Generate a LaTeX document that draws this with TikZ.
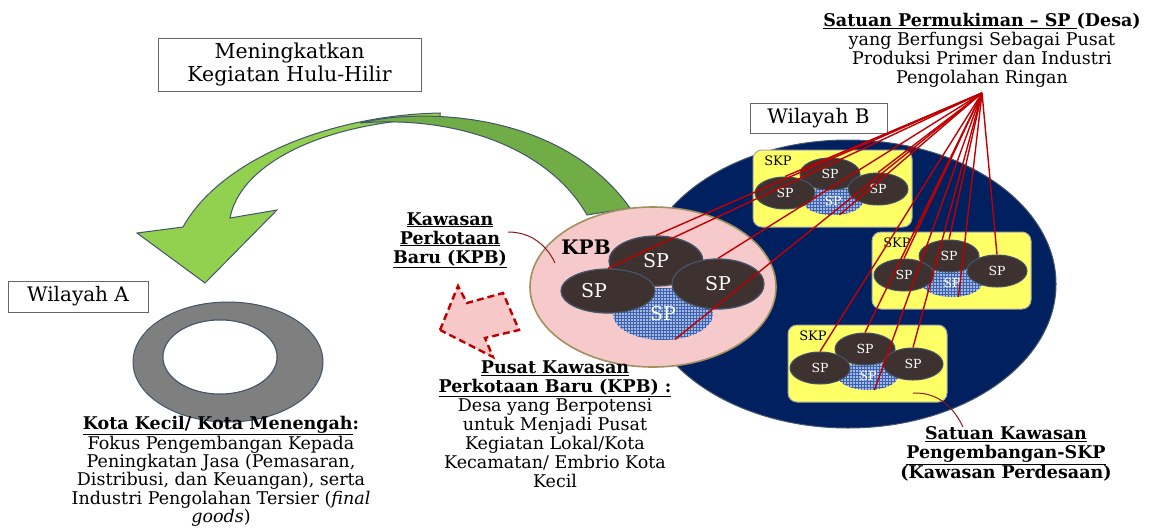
\documentclass[tikz,border=0pt]{standalone}
\usepackage{fontspec}
\setmainfont{DejaVu Serif}
\usetikzlibrary{shapes.geometric,patterns}
\definecolor{navy}{HTML}{002060}
\definecolor{kpbpink}{HTML}{F6CACA}
\definecolor{kpbedge}{RGB}{160,145,95}
\definecolor{spdark}{RGB}{62,50,48}
\definecolor{slate}{HTML}{44546A}
\definecolor{texblue}{HTML}{A3B9E4}
\definecolor{texdark}{HTML}{3D62AE}
\definecolor{skpyellow}{HTML}{FFFF66}
\definecolor{linered}{HTML}{C00000}
\definecolor{curvered}{RGB}{139,26,26}
\definecolor{ringgray}{HTML}{7F7F7F}
\definecolor{greendark}{HTML}{70AD47}
\definecolor{greenlight}{HTML}{92D050}
\definecolor{arrowpink}{RGB}{246,200,200}
\newcommand\bodyfont{\fontsize{17.5}{19}\selectfont}
\tikzset{
  labelbox/.style={draw=gray!80!black, line width=0.8pt, fill=white, inner sep=0pt, align=center},
  txt/.style={align=center, inner sep=0pt, font=\bodyfont},
  spbig/.style={ellipse, draw=slate, line width=1.3pt, fill=spdark, text=white, inner sep=0pt, font=\fontsize{19}{19}\selectfont},
  sptexbig/.style={ellipse, fill=texblue, postaction={pattern=grid, pattern color=texdark}, text=white, inner sep=0pt, font=\fontsize{19}{19}\selectfont},
  sps/.style={ellipse, draw=slate, line width=1pt, fill=spdark, text=white, inner sep=0pt, minimum width=60pt, minimum height=32pt, font=\fontsize{12.5}{12.5}\selectfont},
  sptex/.style={ellipse, fill=texblue, postaction={pattern=grid, pattern color=texdark}, text=white, inner sep=0pt, minimum width=60pt, minimum height=28pt, font=\fontsize{12.5}{12.5}\selectfont},
  skpbox/.style={rounded corners=9pt, fill=skpyellow, draw=gray!70, line width=1pt, minimum width=159pt, minimum height=77pt, inner sep=0pt},
  skplab/.style={inner sep=0pt, font=\fontsize{13}{13}\selectfont},
  redline/.style={draw=linered, line width=1.4pt},
  curveline/.style={draw=curvered, line width=1pt},
}
\newcommand\skpgroup[3]{%
  \node[skpbox] (#1) at ({#2+79.5},{#3+38.5}) {};
  \node[skplab] (#1lab) at ({#2+25},{#3+11}) {SKP};
  \node[sptex] (#1x) at ({#2+80},{#3+51}) {SP};
  \node[sps] (#1t) at ({#2+77},{#3+24}) {SP};
  \node[sps] (#1l) at ({#2+32},{#3+43}) {SP};
  \node[sps] (#1r) at ({#2+125},{#3+39}) {SP};
}
\begin{document}
\begin{tikzpicture}[x=1pt,y=-1pt]
\useasboundingbox (0,0) rectangle (1150,528);
% green curved arrow
\fill[greenlight, draw=slate, line width=1pt]
  (440,113) .. controls (330,115) and (220,160) .. (183,227)
  -- (137,233) -- (205,283) -- (277,210) -- (230,218)
  .. controls (240,165) and (320,122) .. (440,118) -- cycle;
\fill[greendark, draw=slate, line width=1pt]
  (360,123) .. controls (420,108) and (560,110) .. (630,208)
  -- (587,215) .. controls (550,150) and (460,115) .. (360,123) -- cycle;
% text boxes
\node[labelbox, minimum width=263pt, minimum height=53pt, font=\fontsize{20.5}{22.5}\selectfont] (hulu) at (289.5,64.5) {Meningkatkan\\Kegiatan Hulu-Hilir};
\node[labelbox, minimum width=140pt, minimum height=31pt, font=\fontsize{20}{20}\selectfont] (wa) at (78,296.5) {Wilayah A};
\node[labelbox, minimum width=137pt, minimum height=30pt, font=\fontsize{20}{20}\selectfont] (wbl) at (818.5,118) {Wilayah B};
% ring (Wilayah A)
\filldraw[ringgray, draw=slate, line width=1pt, even odd rule]
  (228,362) ellipse [x radius=95, y radius=60]
  (220,357) ellipse [x radius=57, y radius=37];
\fill[white] (220,357) ellipse [x radius=57, y radius=37];
\draw[slate, line width=1pt] (220,357) ellipse [x radius=57, y radius=37];
% Wilayah B
\node[ellipse, fill=navy, draw=slate, line width=1pt, minimum width=416pt, minimum height=288pt] (wb) at (848,284) {};
% KPB
\node[ellipse, fill=kpbpink, draw=kpbedge, line width=1.6pt, minimum width=246pt, minimum height=160pt] (kpb) at (653,287) {};
\node[inner sep=0pt, font=\bfseries\fontsize{20}{20}\selectfont] (kpblab) at (586,247) {KPB};
\node[sptexbig, minimum width=100pt, minimum height=52pt] (kx) at (663,314) {SP};
\node[spbig, minimum width=94pt, minimum height=50pt] (kt) at (656,261) {SP};
\node[spbig, minimum width=94pt, minimum height=44pt] (kl) at (608,291) {SP\hspace*{28pt}};
\node[spbig, minimum width=92pt, minimum height=50pt] (kr) at (718,284) {SP};
% SKP groups
\skpgroup{sa}{753}{150}
\skpgroup{sb}{872}{232}
\skpgroup{sc}{788}{325}
% dashed arrow
\draw[fill=arrowpink, draw=linered, line width=2.4pt, dash pattern=on 7pt off 4pt, line join=miter]
  (440,330) -- (458,286) -- (467,303) -- (503,293) -- (519,330) -- (485,338) -- (493,357) -- cycle;
% red lines from SP label
\coordinate (hub) at (982,93);
\foreach \t in {kt.north, kl.north, kr.north, kx.-65,
                sal.north, sat.north, sar.north, sax.-65,
                sbl.north, sbt.north, sbr.north, sbx.-65,
                scl.north, sct.north, scr.north, scx.-65}
  \draw[redline] (hub) -- (\t);
% texts
\node[txt] (sptext) at (982,50) {\textbf{\underline{Satuan Permukiman – SP }(Desa)}\\yang Berfungsi Sebagai Pusat\\Produksi Primer dan Industri\\Pengolahan Ringan};
\node[txt] (kpbtext) at (450,240) {\textbf{\underline{Kawasan}}\\\textbf{\underline{Perkotaan}}\\\textbf{\underline{Baru (KPB)}}};
\node[txt] (pusattext) at (555,424) {\textbf{\underline{Pusat Kawasan}}\\\textbf{\underline{Perkotaan Baru (KPB) :}}\\Desa yang Berpotensi\\untuk Menjadi Pusat\\Kegiatan Lokal/Kota\\Kecamatan/ Embrio Kota\\Kecil};
\node[txt, font=\fontsize{17.5}{18.2}\selectfont] (kotatext) at (221,471) {\textbf{\underline{Kota Kecil/ Kota Menengah}:}\\Fokus Pengembangan Kepada\\Peningkatan Jasa (Pemasaran,\\Distribusi, dan Keuangan), serta\\Industri Pengolahan Tersier (\textit{final}\\\textit{goods})};
\node[txt] (skptext) at (1006,454) {\textbf{\underline{Satuan Kawasan}}\\\textbf{\underline{Pengembangan-SKP}}\\\textbf{(Kawasan Perdesaan)}};
% pointer curves
\coordinate (kpbc1) at (508,232);
\coordinate (kpbc2) at (555,263);
\draw[curveline] (kpbc1) .. controls (535,232) and (549,250) .. (kpbc2);
\coordinate (skpc1) at (913,393);
\coordinate (skpc2) at (963,427);
\draw[curveline] (skpc1) .. controls (940,392) and (955,410) .. (skpc2);
\end{tikzpicture}
\end{document}
